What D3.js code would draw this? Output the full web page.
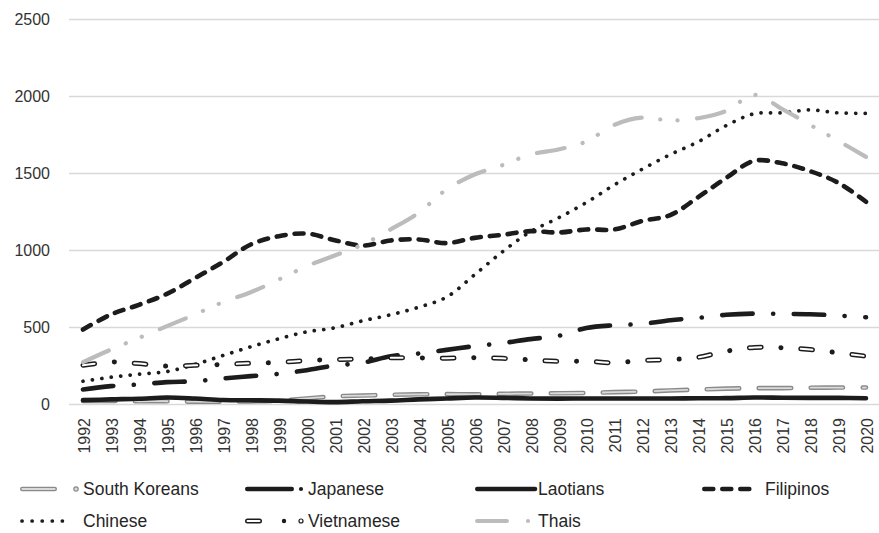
<!DOCTYPE html>
<html>
<head>
<meta charset="utf-8">
<script src="https://cdn.jsdelivr.net/npm/d3@7"></script>
<style>
  html, body { margin: 0; padding: 0; background: #fff; }
  svg { display: block; font-family: "Liberation Sans", Arial, sans-serif; }
</style>
</head>
<body>
<svg id="chart" width="879" height="533"></svg>
<script>
// ---- data -------------------------------------------------------------
const years = ["1992","1993","1994","1995","1996","1997","1998","1999","2000",
  "2001","2002","2003","2004","2005","2006","2007","2008","2009","2010",
  "2011","2012","2013","2014","2015","2016","2017","2018","2019","2020"];
const yTicks = [0, 500, 1000, 1500, 2000, 2500];

const southKoreans = [20, 20, 18, 18, 15, 15, 17, 22, 36, 50, 55, 60, 63, 64, 63,
  66, 68, 70, 72, 77, 81, 88, 94, 100, 103, 103, 106, 107, 107];
const japanese = [94, 116, 127, 142, 148, 166, 181, 196, 220, 250, 268, 311, 328,
  352, 376, 396, 422, 443, 494, 512, 521, 545, 560, 580, 588, 586, 584, 575, 564];
const laotians = [25, 30, 34, 42, 36, 26, 24, 22, 16, 12, 18, 22, 30, 36, 42, 40,
  36, 35, 36, 36, 36, 36, 37, 38, 42, 41, 40, 40, 37];
const filipinos = [484, 582, 645, 716, 818, 922, 1037, 1091, 1108, 1065, 1030, 1063,
  1070, 1046, 1080, 1100, 1124, 1115, 1135, 1135, 1190, 1228, 1345, 1470, 1581,
  1565, 1514, 1439, 1315];
const chinese = [148, 174, 194, 211, 257, 315, 372, 424, 469, 495, 541, 580, 629,
  695, 840, 990, 1120, 1210, 1310, 1425, 1527, 1622, 1705, 1810, 1887, 1893, 1912,
  1893, 1890];
const vietnamese = [252, 272, 263, 246, 252, 257, 265, 270, 283, 289, 292, 300, 300,
  298, 300, 297, 287, 277, 278, 268, 283, 289, 304, 343, 368, 366, 354, 333, 311];
const thais = [272, 354, 430, 506, 582, 662, 727, 809, 896, 965, 1037, 1135, 1243,
  1395, 1492, 1553, 1622, 1655, 1707, 1815, 1862, 1843, 1858, 1905, 2010, 1918,
  1815, 1712, 1607];

const seriesNames = ["South Koreans", "Japanese", "Laotians", "Filipinos",
  "Chinese", "Vietnamese", "Thais"];
const seriesValues = [southKoreans, japanese, laotians, filipinos, chinese,
  vietnamese, thais];

// ---- stroke styles (each series may be drawn as stacked strokes) ----------
const ink = "#1c1c1c";
const styles = {
  "South Koreans": [
    { stroke: "#8a8a8a", width: 4.6, dash: "32.5,19.5" },
    { stroke: "#dadada", width: 1.8, dash: "32.5,19.5" }
  ],
  "Japanese":   [{ stroke: ink, width: 4.6, dash: "30.5,20.5,0.1,20.5" }],
  "Laotians":   [{ stroke: ink, width: 4.6, dash: null }],
  "Filipinos":  [{ stroke: ink, width: 4.6, dash: "9,9" }],
  "Chinese":    [{ stroke: ink, width: 3.7, dash: "0.1,9.4" }],
  "Vietnamese": [
    { stroke: ink, width: 5, dash: "11.7,19.8,0.1,19.8" },
    { stroke: "#ffffff", width: 2, dash: "11.7,39.7" }
  ],
  "Thais": [{ stroke: "#bcbcbc", width: 4.2, dash: "28,18.7,0.1,17.2,0.1,19.6" }]
};

// ---- layout -----------------------------------------------------------
const svg = d3.select("#chart");
const plotLeft = 69, plotRight = 879;

const x = d3.scalePoint().domain(years).range([83, 866]);
const y = d3.scaleLinear().domain([0, 2500]).range([404, 19.5]);

// y axis with gridlines
const yAxis = svg.append("g")
  .attr("transform", `translate(${plotLeft},0)`)
  .call(d3.axisLeft(y).tickValues(yTicks).tickSize(-(plotRight - plotLeft))
    .tickPadding(19).tickFormat(d3.format("d")));
yAxis.select(".domain").remove();
yAxis.selectAll(".tick")
  .attr("transform", d => `translate(0,${Math.floor(y(d)) + 0.5})`);
yAxis.selectAll(".tick line").attr("stroke", "#d9d9d9").attr("stroke-width", 1.3);
yAxis.selectAll(".tick text")
  .attr("fill", "#333").attr("font-size", 16)
  .attr("font-family", "\"Liberation Sans\", Arial, sans-serif");

// x axis labels, rotated
const xAxis = svg.append("g")
  .attr("transform", "translate(0,404)")
  .call(d3.axisBottom(x).tickSize(0));
xAxis.select(".domain").remove();
xAxis.selectAll(".tick text")
  .attr("transform", "rotate(-90)")
  .attr("x", -14).attr("y", 1).attr("dy", "0.35em")
  .attr("text-anchor", "end")
  .attr("fill", "#333").attr("font-size", 16)
  .attr("font-family", "\"Liberation Sans\", Arial, sans-serif");

// ---- lines ------------------------------------------------------------
const line = d3.line()
  .x((d, i) => x(years[i]))
  .y(d => y(d))
  .curve(d3.curveCatmullRom.alpha(0.5));

const linesG = svg.append("g").attr("fill", "none")
  .attr("stroke-linecap", "round").attr("stroke-linejoin", "round");

seriesNames.forEach((name, si) => {
  styles[name].forEach(s => {
    linesG.append("path")
      .attr("d", line(seriesValues[si]))
      .attr("stroke", s.stroke)
      .attr("stroke-width", s.width)
      .attr("stroke-dasharray", s.dash);
  });
});

// ---- legend -----------------------------------------------------------
const legendRows = [seriesNames.slice(0, 4), seriesNames.slice(4)];
const colText = [83, 308, 538, 765];
const rowY = [489, 521];

const legend = svg.append("g").attr("fill", "none")
  .attr("stroke-linecap", "round").attr("stroke-linejoin", "round");

function seg(g, x0, x1, yy, s, dash) {
  g.append("line").attr("x1", x0).attr("x2", x1).attr("y1", yy).attr("y2", yy)
    .attr("stroke", s.stroke).attr("stroke-width", s.width)
    .attr("stroke-dasharray", dash === undefined ? null : dash);
}
function dot(g, cx, yy, r, fill, stroke, sw) {
  g.append("circle").attr("cx", cx).attr("cy", yy).attr("r", r)
    .attr("fill", fill).attr("stroke", stroke || "none").attr("stroke-width", sw || 0);
}

const sampleDrawers = {
  "South Koreans": (g, x0, yy) => {
    const st = styles["South Koreans"];
    seg(g, x0 + 2.3, x0 + 34.7, yy, st[0]);
    seg(g, x0 + 2.3, x0 + 34.7, yy, st[1]);
    dot(g, x0 + 56, yy, 2.2, "#dadada", "#8a8a8a", 1.2);
  },
  "Japanese": (g, x0, yy) => {
    seg(g, x0 + 2.3, x0 + 46.7, yy, styles["Japanese"][0]);
    dot(g, x0 + 56, yy, 2.1, ink);
  },
  "Laotians": (g, x0, yy) => {
    seg(g, x0 + 2.3, x0 + 60, yy, styles["Laotians"][0]);
  },
  "Filipinos": (g, x0, yy) => {
    seg(g, x0 + 2.3, x0 + 47.3, yy, styles["Filipinos"][0], "9,9");
  },
  "Chinese": (g, x0, yy) => {
    seg(g, x0 + 2, x0 + 52, yy, styles["Chinese"][0], "0.1,9.98");
  },
  "Vietnamese": (g, x0, yy) => {
    const st = styles["Vietnamese"];
    seg(g, x0 + 2.5, x0 + 14.5, yy, st[0]);
    seg(g, x0 + 2.5, x0 + 14.5, yy, st[1]);
    dot(g, x0 + 39, yy, 2.2, ink);
    dot(g, x0 + 56, yy, 2, "#fff", ink, 1.2);
  },
  "Thais": (g, x0, yy) => {
    seg(g, x0 + 2.1, x0 + 31.9, yy, styles["Thais"][0]);
    dot(g, x0 + 53, yy, 2.1, "#bcbcbc");
  }
};

legendRows.forEach((row, ri) => {
  row.forEach((name, ci) => {
    const tx = colText[ci], yy = rowY[ri];
    sampleDrawers[name](legend, tx - 63, yy);
    svg.append("text")
      .attr("x", tx).attr("y", yy).attr("dy", "0.35em")
      .attr("fill", "#262626").attr("font-size", 17.5)
      .text(name);
  });
});
</script>
</body>
</html>
